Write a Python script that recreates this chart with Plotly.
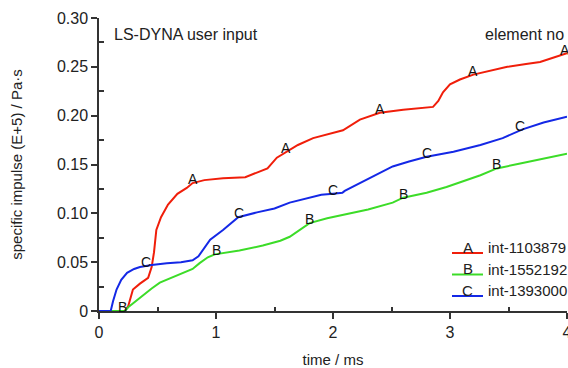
import numpy as np
import plotly.graph_objects as go

# time (ms) and specific impulse (E+5 Pa·s) for each output element
time_a = [0.0, 0.22, 0.25, 0.29, 0.35, 0.42, 0.45, 0.47, 0.49, 0.53, 0.59, 0.67, 0.75, 0.8, 0.9,
          1.06, 1.25, 1.35, 1.44, 1.52, 1.59, 1.7, 1.83, 1.95, 2.085, 2.23, 2.4, 2.6, 2.855,
          2.9, 2.94, 3.0, 3.085, 3.2, 3.35, 3.49, 3.65, 3.77, 3.9, 4.0]
imp_a = [0.0, 0.0, 0.005, 0.022, 0.028, 0.034, 0.045, 0.06, 0.083, 0.096, 0.109, 0.12, 0.126, 0.131,
         0.134, 0.136, 0.137, 0.142, 0.146, 0.157, 0.162, 0.17, 0.177, 0.181, 0.185, 0.196, 0.203,
         0.206, 0.209, 0.215, 0.224, 0.232, 0.237, 0.242, 0.246, 0.25, 0.253, 0.255, 0.26, 0.264]

time_b = [0.0, 0.22, 0.26, 0.35, 0.45, 0.52, 0.62, 0.72, 0.8, 0.86, 0.93, 0.99, 1.2, 1.4, 1.55, 1.63,
          1.7, 1.8, 1.95, 2.06, 2.3, 2.51, 2.6, 2.8, 2.97, 3.26, 3.4, 3.6, 3.8, 4.0]
imp_b = [0.0, 0.0, 0.005, 0.014, 0.023, 0.029, 0.034, 0.039, 0.043, 0.049, 0.055, 0.058, 0.062, 0.067,
         0.072, 0.076, 0.082, 0.09, 0.095, 0.098, 0.104, 0.111, 0.116, 0.121, 0.127, 0.139, 0.146,
         0.151, 0.156, 0.161]

time_c = [0.0, 0.1, 0.12, 0.15, 0.19, 0.24, 0.3, 0.35, 0.45, 0.58, 0.7, 0.8, 0.85, 0.9, 0.95, 1.06,
          1.19, 1.35, 1.5, 1.63, 1.74, 1.9, 2.0, 2.08, 2.1, 2.2, 2.29, 2.4, 2.51, 2.65, 2.8, 3.03,
          3.26, 3.45, 3.62, 3.8, 4.0]
imp_c = [0.0, 0.0, 0.01, 0.022, 0.032, 0.039, 0.043, 0.045, 0.047, 0.049, 0.05, 0.052, 0.056, 0.065,
         0.073, 0.083, 0.096, 0.101, 0.105, 0.111, 0.114, 0.119, 0.12, 0.121, 0.123, 0.129, 0.134,
         0.141, 0.148, 0.153, 0.158, 0.163, 0.17, 0.177, 0.186, 0.193, 0.199]

# curve letters are placed along each curve at these times
label_t_a = [0.8, 1.6, 2.4, 3.2, 3.98]
label_t_b = [0.2, 1.0, 1.8, 2.6, 3.4]
label_t_c = [0.4, 1.2, 2.0, 2.8, 3.6]

series = [
    ("A", "int-1103879", time_a, imp_a, label_t_a, "#f01e0a"),
    ("B", "int-1552192", time_b, imp_b, label_t_b, "#3cdc28"),
    ("C", "int-1393000", time_c, imp_c, label_t_c, "#1428e6"),
]

W, H = 568, 368
ML, MR, MT, MB = 99, 1, 18, 57
FONT = "Liberation Sans, Arial, sans-serif"
INK = "#222222"


def px(xp):
    return (xp - ML) / (W - ML - MR)


def py(yp):
    return (H - MB - yp) / (H - MT - MB)


fig = go.Figure()
annotations = []
shapes = []

for letter, name, t, v, lt, color in series:
    fig.add_trace(go.Scatter(x=t, y=v, mode="lines", name=name,
                             line=dict(color=color, width=2), showlegend=False))
    for tx in lt:
        annotations.append(dict(x=tx, y=float(np.interp(tx, t, v)), xref="x", yref="y",
                                text=letter, showarrow=False, yshift=4,
                                font=dict(family=FONT, size=14, color="#111111")))

# key in the lower right: letter over a short coloured line, then the element id
for i, (letter, name, t, v, lt, color) in enumerate(series):
    line_y = 253 + i * 21.5
    shapes.append(dict(type="line", xref="paper", yref="paper",
                       x0=px(452), x1=px(483), y0=py(line_y), y1=py(line_y),
                       line=dict(color=color, width=2)))
    annotations.append(dict(x=px(467.5), y=py(line_y - 6), xref="paper", yref="paper",
                            text=letter, showarrow=False, xanchor="center", yanchor="middle",
                            font=dict(family=FONT, size=15, color=INK)))
    annotations.append(dict(x=px(486), y=py(line_y - 5.5), xref="paper", yref="paper",
                            text=name, showarrow=False, xanchor="left", yanchor="middle",
                            font=dict(family=FONT, size=15, color=INK)))

annotations.append(dict(x=px(112), y=py(34), xref="paper", yref="paper",
                        text="LS-DYNA user input", showarrow=False,
                        xanchor="left", yanchor="middle",
                        font=dict(family=FONT, size=16, color=INK)))
annotations.append(dict(x=px(566), y=py(34), xref="paper", yref="paper",
                        text="element no", showarrow=False,
                        xanchor="right", yanchor="middle",
                        font=dict(family=FONT, size=16, color=INK)))

fig.update_layout(
    width=W, height=H,
    margin=dict(l=ML, r=MR, t=MT, b=MB, autoexpand=False),
    paper_bgcolor="white", plot_bgcolor="white",
    font=dict(family=FONT, size=16, color=INK),
    annotations=annotations, shapes=shapes,
    xaxis=dict(range=[0, 4], tickvals=[0, 1, 2, 3, 4], showgrid=False, zeroline=False,
               showline=True, linecolor="#333333", linewidth=1.5,
               ticks="outside", ticklen=6, tickwidth=1.5, tickcolor="#333333",
               ticklabeloverflow="allow",
               minor=dict(tickvals=[0.5, 1.5, 2.5, 3.5], ticks="inside", ticklen=4,
                          tickwidth=1.5, tickcolor="#333333", showgrid=False),
               tickfont=dict(size=16),
               title=dict(text="time / ms", font=dict(size=15), standoff=16)),
    yaxis=dict(range=[0, 0.30], tickvals=[0, 0.05, 0.10, 0.15, 0.20, 0.25, 0.30],
               ticktext=["0", "0.05", "0.10", "0.15", "0.20", "0.25", "0.30"],
               showgrid=False, zeroline=False,
               showline=True, linecolor="#333333", linewidth=1.5,
               ticks="outside", ticklen=6, tickwidth=1.5, tickcolor="#333333",
               minor=dict(tickvals=[0.025, 0.075, 0.125, 0.175, 0.225, 0.275], ticks="inside",
                          ticklen=5, tickwidth=1.5, tickcolor="#333333", showgrid=False),
               tickfont=dict(size=16),
               title=dict(text="specific impulse (E+5) / Pa·s", font=dict(size=15), standoff=31)),
)

fig.write_html("out.html")
